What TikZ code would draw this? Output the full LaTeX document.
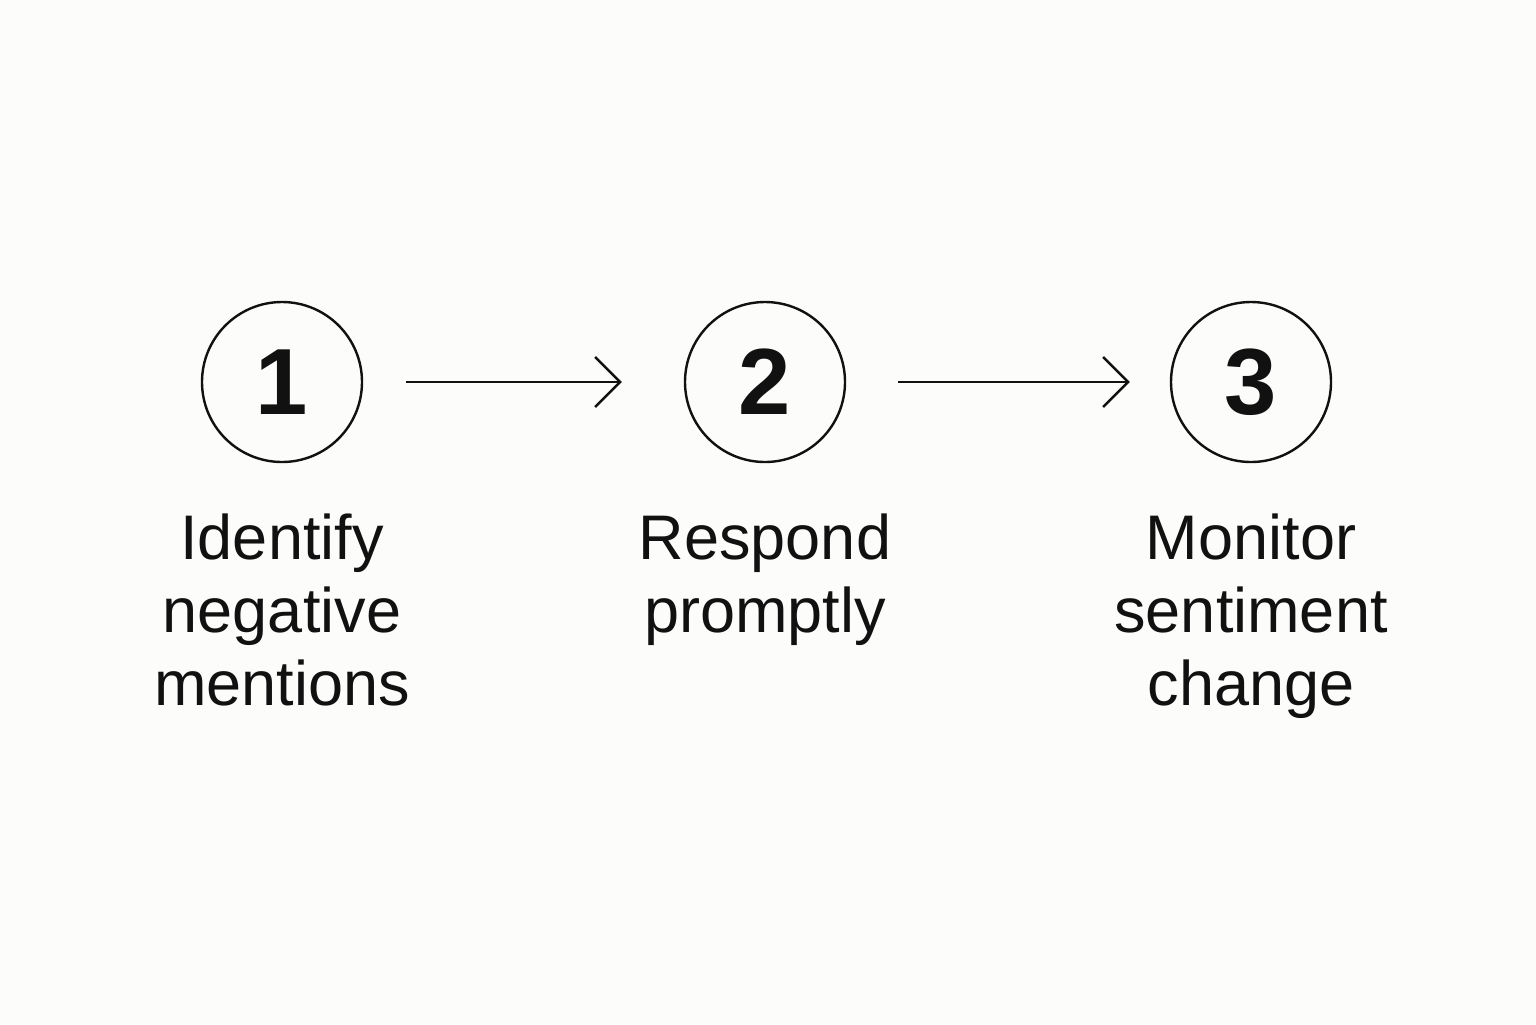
\documentclass[tikz,border=0pt]{standalone}
\usepackage{fontspec}
\setmainfont{Liberation Sans}
\usetikzlibrary{arrows.meta}
\definecolor{bg}{HTML}{FCFCFA}
\definecolor{ink}{HTML}{111111}
\begin{document}
\begin{tikzpicture}[x=0.5pt,y=-0.5pt,
  stepcircle/.style={circle,draw=ink,line width=1.2pt,minimum size=80pt,inner sep=0pt,
    font=\fontsize{47}{50}\selectfont\bfseries,text=ink},
  steplabel/.style={align=center,anchor=base,inner sep=0pt,text=ink,
    font=\fontsize{31.5}{36.5}\selectfont},
  flow/.style={draw=ink,line width=1.25pt,-{Straight Barb[length=12.5pt,width=25pt,line width=1.25pt]}}]
\fill[bg] (0,0) rectangle (1536,1024);
\useasboundingbox (0,0) rectangle (1536,1024);
\node[stepcircle] (c1) at (282,382) {1};
\node[stepcircle] (c2) at (765,382) {2};
\node[stepcircle] (c3) at (1251,382) {3};
\node[steplabel] (t1) at (282,705) {Identify\\negative\\mentions};
\node[steplabel] (t2) at (765,632) {Respond\\promptly};
\node[steplabel] (t3) at (1251,705) {Monitor\\sentiment\\change};
\draw[flow,shorten <=21.5pt,shorten >=31pt] (c1.east) -- (c2.west);
\draw[flow,shorten <=26pt,shorten >=20pt] (c2.east) -- (c3.west);
\end{tikzpicture}
\end{document}
